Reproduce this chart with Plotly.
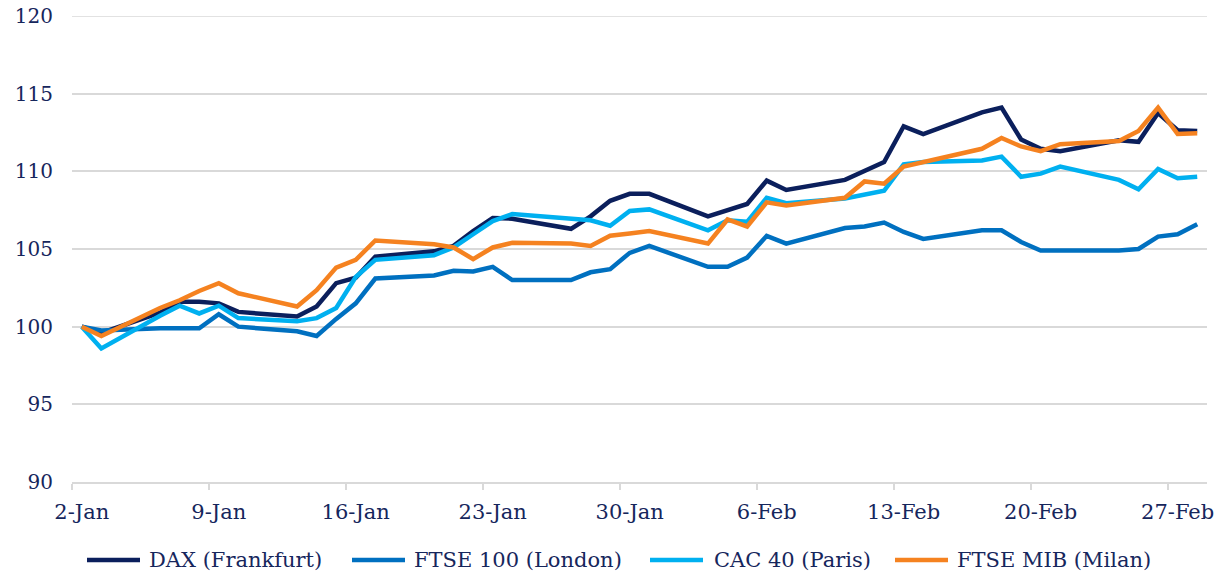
import plotly.graph_objects as go
from datetime import datetime, timedelta

dates = ["2025-01-02","2025-01-03","2025-01-06","2025-01-07","2025-01-08","2025-01-09","2025-01-10",
         "2025-01-13","2025-01-14","2025-01-15","2025-01-16","2025-01-17",
         "2025-01-20","2025-01-21","2025-01-22","2025-01-23","2025-01-24",
         "2025-01-27","2025-01-28","2025-01-29","2025-01-30","2025-01-31",
         "2025-02-03","2025-02-04","2025-02-05","2025-02-06","2025-02-07",
         "2025-02-10","2025-02-11","2025-02-12","2025-02-13","2025-02-14",
         "2025-02-17","2025-02-18","2025-02-19","2025-02-20","2025-02-21",
         "2025-02-24","2025-02-25","2025-02-26","2025-02-27","2025-02-28"]

dax = [100, 99.6, 100.9, 101.6, 101.6, 101.5, 100.95,
       100.65, 101.3, 102.8, 103.15, 104.5,
       104.85, 105.2, 106.15, 107.0, 106.95,
       106.3, 107.1, 108.1, 108.55, 108.55,
       107.1, 107.5, 107.9, 109.4, 108.8,
       109.45, 110.0, 110.6, 112.9, 112.4,
       113.8, 114.1, 112.05, 111.45, 111.3,
       112.0, 111.9, 113.75, 112.65, 112.6]

ftse100 = [100, 99.75, 99.9, 99.9, 99.9, 100.8, 100.0,
           99.7, 99.4, 100.5, 101.5, 103.1,
           103.3, 103.6, 103.55, 103.85, 103.0,
           103.0, 103.5, 103.7, 104.75, 105.2,
           103.85, 103.85, 104.45, 105.85, 105.35,
           106.35, 106.45, 106.7, 106.1, 105.65,
           106.2, 106.2, 105.45, 104.9, 104.9,
           104.9, 105.0, 105.8, 105.95, 106.6]

cac40 = [100, 98.6, 100.7, 101.35, 100.85, 101.35, 100.55,
         100.35, 100.55, 101.2, 103.2, 104.3,
         104.6, 105.1, 105.95, 106.8, 107.25,
         107.0, 106.85, 106.5, 107.45, 107.55,
         106.2, 106.85, 106.75, 108.3, 107.95,
         108.25, 108.5, 108.75, 110.45, 110.6,
         110.7, 110.95, 109.65, 109.85, 110.3,
         109.45, 108.85, 110.15, 109.55, 109.65]

ftsemib = [100, 99.4, 101.2, 101.7, 102.3, 102.8, 102.15,
           101.3, 102.35, 103.8, 104.3, 105.55,
           105.3, 105.1, 104.35, 105.1, 105.4,
           105.35, 105.2, 105.85, 106.0, 106.15,
           105.35, 106.9, 106.45, 108.0, 107.8,
           108.3, 109.35, 109.2, 110.3, 110.6,
           111.45, 112.15, 111.6, 111.3, 111.75,
           111.95, 112.6, 114.1, 112.4, 112.45]

series_names = ["DAX (Frankfurt)", "FTSE 100 (London)", "CAC 40 (Paris)", "FTSE MIB (Milan)"]
series_values = [dax, ftse100, cac40, ftsemib]
series_colors = ["#0b1f5c", "#0070c0", "#00b0f0", "#f58220"]

tick_dates = ["2025-01-02","2025-01-09","2025-01-16","2025-01-23","2025-01-30",
              "2025-02-06","2025-02-13","2025-02-20","2025-02-27"]
tick_labels = ["2-Jan","9-Jan","16-Jan","23-Jan","30-Jan","6-Feb","13-Feb","20-Feb","27-Feb"]

y_min, y_max, y_step = 90, 120, 5

half_day = timedelta(hours=12)
fmt = "%Y-%m-%d %H:%M"
tick_marks = [(datetime.strptime(d, "%Y-%m-%d") - half_day).strftime(fmt) for d in tick_dates]
x_start = (datetime.strptime(dates[0], "%Y-%m-%d") - half_day).strftime(fmt)
x_end = (datetime.strptime(dates[-1], "%Y-%m-%d") + half_day).strftime(fmt)

text_color = "#16265c"
grid_color = "#d9d9d9"
font_family = "DejaVu Serif"

W, H = 1227, 574
ML, MR, MT, MB = 72, 20, 16, 92
plot_w = W - ML - MR
plot_h = H - MT - MB

fig = go.Figure()
for name, vals, col in zip(series_names, series_values, series_colors):
    fig.add_trace(go.Scatter(x=dates, y=vals, name=name, mode="lines",
                             line=dict(color=col, width=4.5), showlegend=False))

# top gridline at the upper end of the value axis
fig.add_shape(type="line", xref="paper", yref="y", x0=0, x1=1, y0=y_max, y1=y_max,
              line=dict(color=grid_color, width=1.5), layer="below")

# manual legend (layout decoration, pixel positions converted to paper coords)
legend_sample_px = [87, 352, 650, 895]
legend_text_px = [147, 412, 712, 955]
legend_y_px = 560
sample_len = 53
ly = (H - MB - legend_y_px) / plot_h
for name, col, sx, tx in zip(series_names, series_colors, legend_sample_px, legend_text_px):
    fig.add_shape(type="line", xref="paper", yref="paper",
                  x0=(sx - ML) / plot_w, x1=(sx + sample_len - ML) / plot_w, y0=ly, y1=ly,
                  line=dict(color=col, width=4.5))
    fig.add_annotation(xref="paper", yref="paper", x=(tx - ML) / plot_w, y=ly,
                       xanchor="left", yanchor="middle", text=name, showarrow=False,
                       font=dict(family=font_family, size=21, color=text_color))

fig.update_layout(
    width=W, height=H,
    margin=dict(l=ML, r=MR, t=MT, b=MB),
    paper_bgcolor="white", plot_bgcolor="white",
    font=dict(family=font_family, size=20, color=text_color),
    showlegend=False,
)
fig.update_xaxes(
    type="date", range=[x_start, x_end], automargin=False,
    tickmode="array", tickvals=tick_dates, ticktext=tick_labels,
    tickfont=dict(size=21),
    ticks="", showgrid=False, zeroline=False,
    showline=True, linecolor=grid_color, linewidth=1.5,
    ticklabelstandoff=10,
    minor=dict(tickmode="array", tickvals=tick_marks, ticks="outside", ticklen=6,
               tickcolor=grid_color, tickwidth=1.5, showgrid=False),
)
fig.update_yaxes(
    range=[y_min, y_max], dtick=y_step, tick0=y_min, automargin=False,
    showgrid=True, gridcolor=grid_color, gridwidth=1.5,
    zeroline=False, showline=False, ticks="",
    ticklabelstandoff=18,
)

fig.write_html("out.html", config={"displayModeBar": False},
               post_script="document.body.style.margin='0';")
